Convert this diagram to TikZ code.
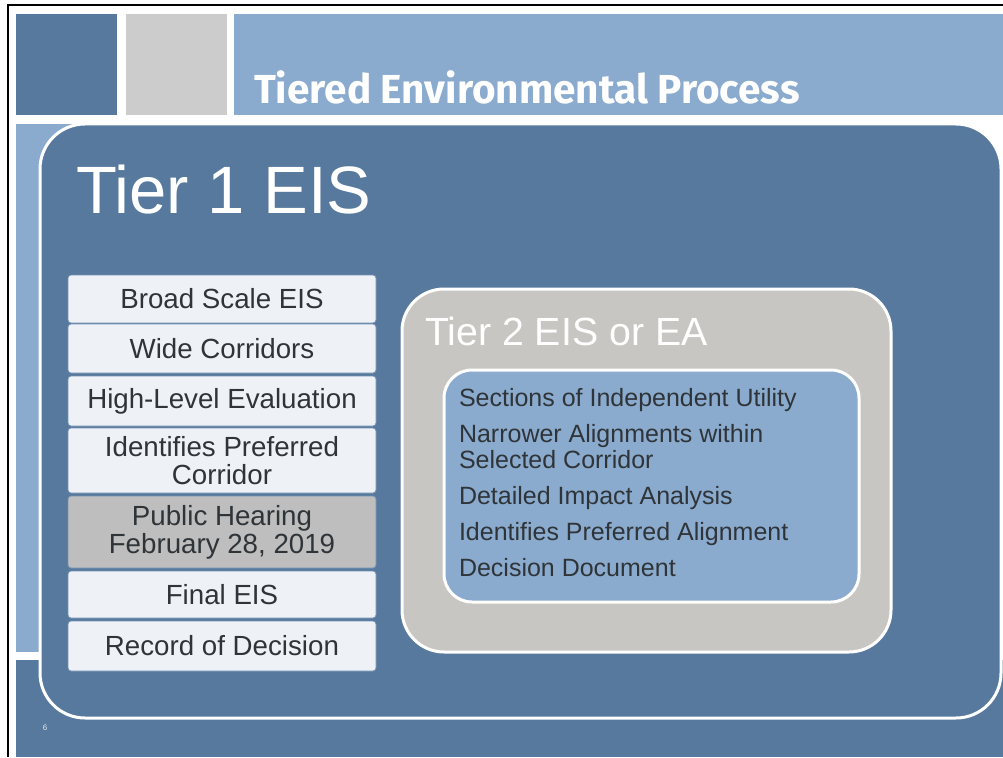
\documentclass[tikz,border=0pt]{standalone}
\usepackage{fontspec}
\setmainfont{Liberation Sans}
\newfontfamily\headfont{Fira Sans}
\begin{document}
\begin{tikzpicture}[x=1pt,y=-1pt,
  every node/.style={inner sep=0pt,outer sep=0pt},
  stepbox/.style={draw=boxline,line width=0.8pt,fill=boxfill,rounded corners=3pt,
    minimum width=308pt,align=center,text=textgray,
    font=\fontsize{27.7}{28}\selectfont},
  panel/.style={draw=white,line width=3pt}]
\definecolor{darkblue}{HTML}{56799D}
\definecolor{lightblue}{HTML}{8AABCE}
\definecolor{topgray}{HTML}{CCCCCC}
\definecolor{warmgray}{HTML}{C8C6C2}
\definecolor{boxfill}{HTML}{EEF2F6}
\definecolor{boxline}{HTML}{7391B2}
\definecolor{hearing}{HTML}{BDBEBD}
\definecolor{textgray}{HTML}{2F3439}
\useasboundingbox (0,0) rectangle (1003,757);
\fill[white] (0,0) rectangle (1003,757);
% slide frame
\draw[black,line width=2pt] (8,757) -- (8,5) -- (1003,5);
% header blocks
\fill[darkblue] (16,14) rectangle (117,115);
\fill[topgray] (126,14) rectangle (227,115);
\fill[lightblue] (234,14) rectangle (1003,115);
\node[anchor=base west,text=white,font=\headfont\bfseries\fontsize{40.5}{40.5}\selectfont]
  (title) at (254,103) {Tiered Environmental Process};
% side and bottom bands
\fill[lightblue] (16,124) rectangle (110,652);
\fill[darkblue] (16,660) rectangle (1003,757);
% Tier 1 panel
\draw[panel,fill=darkblue,rounded corners=45pt] (40,124) rectangle (1001,718);
\node[anchor=base west,text=white,font=\fontsize{67}{67}\selectfont]
  (tier1) at (76,213) {Tier 1 EIS};
% Tier 1 steps
\node[stepbox,minimum height=48pt] (s1) at (222,299) {Broad Scale EIS};
\node[stepbox,minimum height=49pt] (s2) at (222,348.5) {Wide Corridors};
\node[stepbox,minimum height=50pt] (s3) at (222,401) {High-Level Evaluation};
\node[stepbox,minimum height=65pt] (s4) at (222,460.5) {Identifies Preferred\\Corridor};
\node[stepbox,fill=hearing,minimum height=72pt] (s5) at (222,532) {Public Hearing\\February 28, 2019};
\node[stepbox,minimum height=47pt] (s6) at (222,594.5) {Final EIS};
\node[stepbox,minimum height=50pt] (s7) at (222,646) {Record of Decision};
% Tier 2 panel
\draw[panel,fill=warmgray,rounded corners=42pt] (402,289) rectangle (891,652);
\node[anchor=base west,text=white,font=\fontsize{39.3}{39.3}\selectfont]
  (tier2) at (425,345) {Tier 2 EIS or EA};
\draw[panel,fill=lightblue,rounded corners=28pt] (444,370) rectangle (859,602);
% the base anchor of a multi-line node sits on its last line
\node[anchor=base west,align=left,text=textgray,font=\fontsize{25}{26}\selectfont]
  (tier2list) at (459,576) {Sections of Independent Utility\\[10pt]
  Narrower Alignments within\\Selected Corridor\\[10pt]
  Detailed Impact Analysis\\[10pt]
  Identifies Preferred Alignment\\[10pt]
  Decision Document};
% slide number
\node[text=white!85!darkblue,font=\fontsize{8}{8}\selectfont] (pageno) at (45,728) {6};
\end{tikzpicture}
\end{document}
